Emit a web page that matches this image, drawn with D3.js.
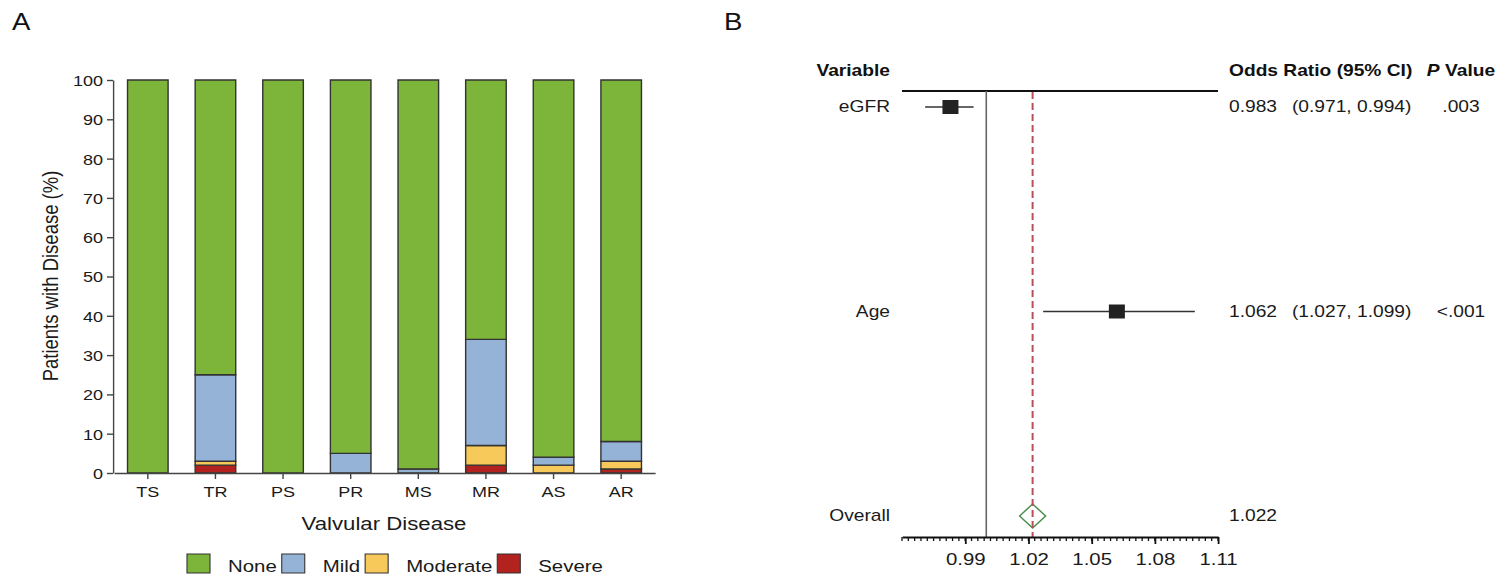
<!DOCTYPE html>
<html><head><meta charset="utf-8">
<script src="https://cdn.jsdelivr.net/npm/d3@7"></script>
<style>
html,body{margin:0;padding:0;background:#fff;}
svg{display:block;}
svg line, svg path, svg rect, svg polygon{vector-effect:non-scaling-stroke;}
</style></head><body>
<svg id="chart"></svg>
<script>
// ---------- Panel A data ----------
const categories = ["TS","TR","PS","PR","MS","MR","AS","AR"];
const noneVals     = [100, 75, 100, 95, 99, 66, 96, 92];
const mildVals     = [0, 22, 0, 5, 1, 27, 2, 5];
const moderateVals = [0, 1, 0, 0, 0, 5, 2, 2];
const severeVals   = [0, 2, 0, 0, 0, 2, 0, 1];
const seriesNames  = ["None","Mild","Moderate","Severe"];
const seriesColors = ["#7db43a","#95b3d7","#f6c95a","#b2231f"];
const yTicksA      = [0,10,20,30,40,50,60,70,80,90,100];

// ---------- Panel B data ----------
const variables   = ["eGFR","Age"];
const oddsRatios  = [0.983, 1.062];
const ciLow       = [0.971, 1.027];
const ciHigh      = [0.994, 1.099];
const pValues     = [".003","<.001"];
const overallOR   = 1.022;
const xTicksB     = [0.99,1.02,1.05,1.08,1.11];

// ---------- layout ----------
const S = 1.2;               // horizontal stretch of the picture
const W = 1498 / S, H = 577;
const font = "'Liberation Sans', Arial, sans-serif";
const svg = d3.select("#chart")
  .attr("width", 1498).attr("height", H)
  .attr("viewBox", `0 0 ${W} ${H}`)
  .attr("preserveAspectRatio", "none")
  .style("font-family", font);

// panel letters
svg.append("text").attr("x", 12/S).attr("y", 30).attr("font-size", 23).attr("fill", "#111").text("A");
svg.append("text").attr("x", 724/S).attr("y", 30).attr("font-size", 23).attr("fill", "#111").text("B");

// ================= Panel A =================
const rowsA = categories.map((c, i) => ({
  cat: c, None: noneVals[i], Mild: mildVals[i], Moderate: moderateVals[i], Severe: severeVals[i]
}));
const stackA = d3.stack().keys(["Severe","Moderate","Mild","None"])(rowsA);
const colorA = d3.scaleOrdinal().domain(seriesNames).range(seriesColors);

const xA = d3.scaleBand().domain(categories).range([114/S, 655/S]).paddingInner(0.4).paddingOuter(0.2);
const yA = d3.scaleLinear().domain([0, 100]).range([473, 80]);

const gA = svg.append("g");
gA.selectAll("g.layer").data(stackA).join("g").attr("class", "layer")
  .attr("fill", d => colorA(d.key))
  .selectAll("rect").data(d => d.filter(v => v[1] - v[0] > 0)).join("rect")
  .attr("x", d => xA(d.data.cat))
  .attr("width", xA.bandwidth())
  .attr("y", d => yA(d[1]))
  .attr("height", d => yA(d[0]) - yA(d[1]))
  .attr("stroke", "#333").attr("stroke-width", 1.4);

const yAxisA = gA.append("g").attr("transform", `translate(${113/S},0)`)
  .call(d3.axisLeft(yA).tickValues(yTicksA).tickSize(6/S).tickSizeOuter(0).tickPadding(4/S));
const xAxisA = gA.append("g").attr("transform", `translate(0,${yA(0)})`)
  .call(d3.axisBottom(xA).tickSize(6).tickSizeOuter(0).tickPadding(7));
[yAxisA, xAxisA].forEach(g => {
  g.attr("font-family", font).attr("font-size", 15);
  g.selectAll("path,line").attr("stroke", "#444").attr("stroke-width", 1.4);
  g.selectAll("text").attr("fill", "#1a1a1a");
});
yAxisA.selectAll("text").attr("dy", "0.36em");

gA.append("text").attr("x", 384/S).attr("y", 530).attr("text-anchor", "middle")
  .attr("font-size", 18.5).attr("fill", "#1a1a1a").text("Valvular Disease");
gA.append("text").attr("transform", `translate(${58/S},276) rotate(-90)`)
  .attr("text-anchor", "middle").attr("font-size", 18.5).attr("fill", "#1a1a1a")
  .text("Patients with Disease (%)");

// legend
let lx = 187/S;
const leg = gA.append("g");
seriesNames.forEach((name, i) => {
  leg.append("rect").attr("x", lx).attr("y", 554).attr("width", 23/S).attr("height", 19)
    .attr("fill", colorA(name)).attr("stroke", "#333").attr("stroke-width", 1.1);
  const t = leg.append("text").attr("x", lx + 41/S).attr("y", 572)
    .attr("font-size", 17).attr("fill", "#1a1a1a").text(name);
  lx += 41/S + t.node().getComputedTextLength() + 5/S;
});

// ================= Panel B =================
const xB = d3.scaleLinear().domain([0.96, 1.11]).range([902/S, 1218/S]);
const rowsB = variables.concat(["Overall"]);
const yB = d3.scalePoint().domain(rowsB).range([107, 516]);
const axisY = 537, topY = 91;
const gB = svg.append("g");

// header line
gB.append("line").attr("x1", xB.range()[0]).attr("x2", xB.range()[1])
  .attr("y1", topY).attr("y2", topY).attr("stroke", "#111").attr("stroke-width", 2);
// reference line at 1
gB.append("line").attr("x1", xB(1)).attr("x2", xB(1)).attr("y1", topY).attr("y2", axisY)
  .attr("stroke", "#666").attr("stroke-width", 1.6);

// CI lines and squares
const fData = variables.map((v, i) => ({ v, or: oddsRatios[i], lo: ciLow[i], hi: ciHigh[i], p: pValues[i] }));
gB.selectAll("line.ci").data(fData).join("line").attr("class", "ci")
  .attr("x1", d => xB(d.lo)).attr("x2", d => xB(d.hi))
  .attr("y1", d => yB(d.v)).attr("y2", d => yB(d.v))
  .attr("stroke", "#333").attr("stroke-width", 1.5);
gB.selectAll("rect.pt").data(fData).join("rect").attr("class", "pt")
  .attr("x", d => xB(d.or) - 8/S).attr("width", 16/S)
  .attr("y", d => yB(d.v) - 7).attr("height", 14)
  .attr("fill", "#222");

// overall diamond
const oy = yB("Overall"), ox = xB(overallOR);
gB.append("polygon")
  .attr("points", [[ox - 13/S, oy], [ox, oy - 12], [ox + 13/S, oy], [ox, oy + 12]].map(p => p.join(",")).join(" "))
  .attr("fill", "none").attr("stroke", "#4e8f4e").attr("stroke-width", 1.5);
// dashed overall line
gB.append("line").attr("x1", ox).attr("x2", ox).attr("y1", topY + 1).attr("y2", axisY)
  .attr("stroke", "#b8505a").attr("stroke-width", 2).attr("stroke-dasharray", "7,4");

// axis
const xAxisB = gB.append("g").attr("transform", `translate(0,${axisY})`)
  .call(d3.axisBottom(xB).tickValues(xTicksB).tickFormat(d3.format(".2f")).tickSize(7).tickSizeOuter(0).tickPadding(9));
xAxisB.attr("font-family", font).attr("font-size", 17);
xAxisB.selectAll("path,line").attr("stroke", "#111").attr("stroke-width", 1.8);
xAxisB.selectAll("text").attr("fill", "#1a1a1a");
const minor = d3.range(0, 51).map(i => xB.domain()[0] + i * 0.003);
xAxisB.selectAll("line.minor").data(minor).join("line").attr("class", "minor")
  .attr("x1", d => xB(d)).attr("x2", d => xB(d)).attr("y1", 0).attr("y2", 4)
  .attr("stroke", "#111").attr("stroke-width", 1.3);

// text columns
const fmt3 = d3.format(".3f");
const tcol = { label: 890/S, or: 1229/S, ci: 1292/S, p: 1461/S };
const headY = 76;
gB.append("text").attr("x", tcol.label).attr("y", headY).attr("text-anchor", "end")
  .attr("font-size", 16).attr("font-weight", "bold").attr("fill", "#111").text("Variable");
gB.append("text").attr("x", tcol.or).attr("y", headY)
  .attr("font-size", 16).attr("font-weight", "bold").attr("fill", "#111").text("Odds Ratio (95% CI)");
const ph = gB.append("text").attr("x", tcol.p).attr("y", headY).attr("text-anchor", "middle")
  .attr("font-size", 16).attr("font-weight", "bold").attr("fill", "#111");
ph.append("tspan").attr("font-style", "italic").text("P");
ph.append("tspan").text(" Value");

rowsB.forEach(r => {
  gB.append("text").attr("x", tcol.label).attr("y", yB(r) + 5.5).attr("text-anchor", "end")
    .attr("font-size", 16).attr("fill", "#1a1a1a").text(r);
});
fData.forEach(d => {
  const y = yB(d.v) + 5.5;
  gB.append("text").attr("x", tcol.or).attr("y", y).attr("font-size", 16).attr("fill", "#1a1a1a").text(fmt3(d.or));
  gB.append("text").attr("x", tcol.ci).attr("y", y).attr("font-size", 16).attr("fill", "#1a1a1a")
    .text(`(${fmt3(d.lo)}, ${fmt3(d.hi)})`);
  gB.append("text").attr("x", tcol.p).attr("y", y).attr("text-anchor", "middle")
    .attr("font-size", 16).attr("fill", "#1a1a1a").text(d.p);
});
gB.append("text").attr("x", tcol.or).attr("y", oy + 5.5).attr("font-size", 16).attr("fill", "#1a1a1a").text(fmt3(overallOR));
</script>
</body></html>
